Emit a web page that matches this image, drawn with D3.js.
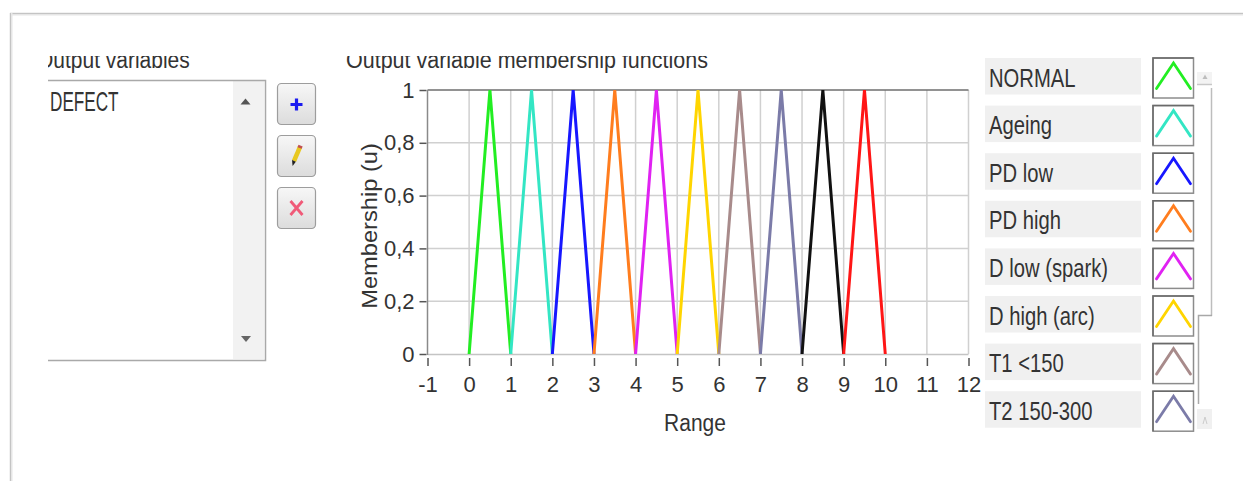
<!DOCTYPE html>
<html><head><meta charset="utf-8">
<script src="https://cdn.jsdelivr.net/npm/d3@7"></script>
<style>
html,body{margin:0;padding:0;background:#fff;}
svg{display:block;font-family:"Liberation Sans",Arial,sans-serif;}
</style></head>
<body><svg id="c" width="1243" height="481"></svg>
<script>
// ---- data ----
const mfNames = ["NORMAL","Ageing","PD low","PD high","D low (spark)","D high (arc)","T1 <150","T2 150-300","T3","T4"];
const mfStart = [0,1,2,3,4,5,6,7,8,9];
const mfPeak  = [0.5,1.5,2.5,3.5,4.5,5.5,6.5,7.5,8.5,9.5];
const mfEnd   = [1,2,3,4,5,6,7,8,9,10];
const mfColors = ["#22ee22","#33e6c4","#1717ff","#ff7d1e","#e022f2","#ffd500","#a88b8b","#7b7ba8","#111111","#ff1616"];
const legendCount = 8;           // visible rows in the legend list
const xTicks = [-1,0,1,2,3,4,5,6,7,8,9,10,11,12];
const yTicks = [0,0.2,0.4,0.6,0.8,1];
const variables = ["DEFECT"];

const svg = d3.select("#c");
const txt = "#333";

// window frame
svg.append("rect").attr("width",1243).attr("height",481).attr("fill","#fff");
svg.append("line").attr("x1",10).attr("x2",1243).attr("y1",14).attr("y2",14).attr("stroke","#e6e6e6").attr("stroke-width",3);
svg.append("line").attr("x1",10).attr("x2",1243).attr("y1",13.5).attr("y2",13.5).attr("stroke","#c4c4c4");
svg.append("line").attr("x1",11).attr("x2",11).attr("y1",13).attr("y2",481).attr("stroke","#e6e6e6").attr("stroke-width",3);
svg.append("line").attr("x1",10.5).attr("x2",10.5).attr("y1",13).attr("y2",481).attr("stroke","#c4c4c4");

// clips
const defs = svg.append("defs");
defs.append("clipPath").attr("id","clipTop").append("rect").attr("x",48).attr("y",56).attr("width",1195).attr("height",425);
const grad = defs.append("linearGradient").attr("id","btn").attr("x1",0).attr("y1",0).attr("x2",0).attr("y2",1);
grad.append("stop").attr("offset","0%").attr("stop-color","#f7f7f7");
grad.append("stop").attr("offset","100%").attr("stop-color","#dcdcdc");

// titles (clipped at top / left)
const titles = svg.append("g").attr("clip-path","url(#clipTop)");
titles.append("text").attr("transform","translate(37,67.5) scale(1,1.15)").attr("font-size",21).attr("fill",txt).text("Output variables");
titles.append("text").attr("transform","translate(346,67.5) scale(1,1.15)").attr("font-size",21.5).attr("fill",txt).text("Output variable membership functions");

// list box
const lb = svg.append("g").attr("clip-path","url(#clipTop)");
lb.append("rect").attr("x",30).attr("y",80).attr("width",235).attr("height",280).attr("fill","#fff");
lb.append("rect").attr("x",233).attr("y",81).attr("width",31).attr("height",278).attr("fill","#f2f2f2");
lb.append("path").attr("d","M30,80.5H265.5V360.5H30").attr("fill","none").attr("stroke","#a9a9a9").attr("stroke-width",1.5);
lb.append("path").attr("d","M240.5,104.5L245.5,98.5L250.5,104.5Z").attr("fill","#555");
lb.append("path").attr("d","M241,336L246,342L251,336Z").attr("fill","#666");
lb.selectAll("text.var").data(variables).join("text").attr("class","var")
  .attr("transform",(d,i)=>`translate(50,${110.5+i*30}) scale(0.78,1.24)`)
  .attr("font-size",22).attr("fill",txt).text(d=>d);

// buttons
const btnY = [83,135,187];
svg.selectAll("rect.btn").data(btnY).join("rect").attr("class","btn")
  .attr("x",277.5).attr("y",d=>d+0.5).attr("width",38).attr("height",41).attr("rx",4)
  .attr("fill","url(#btn)").attr("stroke","#9d9d9d").attr("stroke-width",1.2);
// plus
svg.append("path").attr("d","M290.5,104.5h12M296.5,98.5v12").attr("stroke","#1b1bf0").attr("stroke-width",3.2);
// pencil
svg.append("line").attr("x1",300).attr("y1",147).attr("x2",294).attr("y2",161).attr("stroke","#e8c820").attr("stroke-width",4.5);
svg.append("line").attr("x1",300.6).attr("y1",145.6).attr("x2",299.6).attr("y2",148).attr("stroke","#c05050").attr("stroke-width",4.5);
svg.append("path").attr("d","M292,160L295.8,161.8L292.6,166Z").attr("fill","#222");
// X
svg.append("path").attr("d","M290.5,201l12,14M302.5,201l-12,14").attr("stroke","#f05a78").attr("stroke-width",2.8);

// ---- chart ----
const x = d3.scaleLinear().domain([-1,12]).range([427.5,968.5]);
const y = d3.scaleLinear().domain([0,1]).range([354,90]);

// grid
svg.append("g").selectAll("line").data(xTicks.filter(t=>t>-1)).join("line")
  .attr("x1",d=>x(d)).attr("x2",d=>x(d)).attr("y1",y(0)).attr("y2",y(1))
  .attr("stroke","#d0d0d0").attr("stroke-width",1.5);
svg.append("g").selectAll("line").data(yTicks.filter(t=>t>0)).join("line")
  .attr("x1",x(-1)).attr("x2",x(12)).attr("y1",d=>y(d)).attr("y2",d=>y(d))
  .attr("stroke",d=>d===1?"#6e6e6e":"#d0d0d0").attr("stroke-width",1.5);
svg.append("line").attr("x1",x(-1)).attr("x2",x(12)).attr("y1",y(0)+0.5).attr("y2",y(0)+0.5).attr("stroke","#c4c4c4").attr("stroke-width",1.5);
svg.append("line").attr("x1",x(-1)).attr("x2",x(-1)).attr("y1",y(1)).attr("y2",y(0)+1).attr("stroke","#8a8a8a").attr("stroke-width",1.5);

// axes
const fmtY = d => String(d).replace(".",",");
const fmtX = d => String(d);
const yAxis = svg.append("g").attr("transform",`translate(${x(-1)-1},0)`)
  .call(d3.axisLeft(y).tickValues(yTicks).tickFormat(fmtY).tickSize(7).tickPadding(5));
yAxis.select(".domain").remove();
yAxis.selectAll(".tick line").attr("stroke","#555").attr("stroke-width",1.5);
yAxis.selectAll(".tick text").attr("font-size",22).attr("fill",txt).attr("font-family","Liberation Sans, Arial, sans-serif");

const xAxis = svg.append("g").attr("transform",`translate(0,${y(0)+4})`)
  .call(d3.axisBottom(x).tickValues(xTicks).tickFormat(fmtX).tickSize(8).tickPadding(10));
xAxis.select(".domain").remove();
xAxis.selectAll(".tick line").attr("stroke","#555").attr("stroke-width",1.5);
xAxis.selectAll(".tick text").attr("font-size",22).attr("fill",txt).attr("font-family","Liberation Sans, Arial, sans-serif");

svg.append("text").attr("transform","translate(695,431) scale(1,1.1)").attr("text-anchor","middle")
  .attr("font-size",21).attr("fill",txt).text("Range");
svg.append("text").attr("transform","translate(377,226) rotate(-90) scale(1.1,1)").attr("text-anchor","middle")
  .attr("font-size",21.5).attr("fill",txt).text("Membership (u)");

// membership functions
const series = mfNames.map((n,i)=>({name:n,color:mfColors[i],
  pts:[[mfStart[i],0],[mfPeak[i],1],[mfEnd[i],0]]}));
const line = d3.line().x(d=>x(d[0])).y(d=>y(d[1]));
svg.append("g").selectAll("path").data(series).join("path")
  .attr("d",d=>line(d.pts)).attr("fill","none").attr("stroke",d=>d.color)
  .attr("stroke-width",3).attr("stroke-linejoin","miter");

// ---- legend ----
const rowTop = i => 58 + i*47.6;
const leg = svg.append("g");
const rows = leg.selectAll("g").data(series.slice(0,legendCount)).join("g")
  .attr("transform",(d,i)=>`translate(0,${rowTop(i)})`);
rows.append("rect").attr("x",985).attr("y",0).attr("width",156).attr("height",36.5).attr("fill","#f0f0f0");
rows.append("text").attr("transform","translate(989,28.6) scale(0.92,1.14)")
  .attr("font-size",22).attr("fill",txt).text(d=>d.name);
rows.append("rect").attr("x",1153).attr("y",0).attr("width",40.5).attr("height",40)
  .attr("fill","#fff").attr("stroke","#8c8c8c").attr("stroke-width",1.5);
rows.append("path").attr("d","M1153,40V0H1193.5").attr("fill","none").attr("stroke","#6a6a6a").attr("stroke-width",1.5);
rows.append("path").attr("fill","none").attr("stroke",d=>d.color).attr("stroke-width",2.8)
  .attr("stroke-linecap","round")
  .attr("d",(d,i)=>{
    const ix = d3.scaleLinear().domain([mfStart[i],mfEnd[i]]).range([1156.5,1190.5]);
    const iy = d3.scaleLinear().domain([0,1]).range([30.5,5]);
    return d3.line().x(p=>ix(p[0])).y(p=>iy(p[1]))(d.pts);
  });

// legend scrollbar
svg.append("rect").attr("x",1197).attr("y",72).attr("width",15).attr("height",13).attr("fill","#f3f3f3");
svg.append("line").attr("x1",1197).attr("x2",1212).attr("y1",84.5).attr("y2",84.5).attr("stroke","#c8c8c8").attr("stroke-width",1.5);
svg.append("path").attr("d","M1202.5,79L1205,74.5L1207.5,79Z").attr("fill","#bdbdbd");
svg.append("line").attr("x1",1211.5).attr("x2",1211.5).attr("y1",88).attr("y2",316).attr("stroke","#bdbdbd").attr("stroke-width",1.5);
svg.append("path").attr("d","M1212,315.5H1198.5V404").attr("fill","none").attr("stroke","#a8a8a8").attr("stroke-width",1.5);
svg.append("rect").attr("x",1197).attr("y",409).attr("width",15).attr("height",20).attr("fill","#f0f0f0");
svg.append("path").attr("d","M1203,424L1205,417L1207,424").attr("fill","none").attr("stroke","#ccc");
</script></body></html>
